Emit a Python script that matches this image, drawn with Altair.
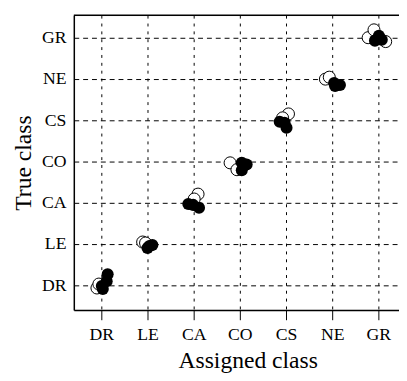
import altair as alt
import pandas as pd

classes = ["DR", "LE", "CA", "CO", "CS", "NE", "GR"]

# open circles (assigned, true) positions
open_x = [0.905, 0.947, 1.895, 1.958, 3.095, 3.011, 3.789, 3.937, 5.053, 4.926, 5.853, 5.937, 6.779, 6.905, 7.158]
open_y = [0.936, 1.031, 2.050, 2.026, 3.211, 3.092, 3.969, 3.803, 5.154, 5.059, 5.998, 6.045, 7.002, 7.192, 6.908]

# filled circles
fill_x = [1.011, 1.116, 1.137, 1.032, 2.042, 2.105, 2.000, 2.884, 3.116, 2.989, 4.042, 4.147, 4.042, 4.863, 5.011, 4.968, 6.042, 6.168, 6.063, 7.011, 7.074, 6.926]
fill_y = [0.983, 1.102, 1.268, 0.912, 1.955, 1.979, 1.908, 2.974, 2.879, 2.950, 3.969, 3.931, 3.789, 4.964, 4.822, 4.941, 5.903, 5.855, 5.832, 7.050, 6.955, 6.931]

W, H = 331, 300
FONT = "Liberation Serif"

df_open = pd.DataFrame({"x": open_x, "y": open_y})
df_fill = pd.DataFrame({"x": fill_x, "y": fill_y})

label_expr = "[" + ",".join("'%s'" % c for c in classes) + "][datum.value-1]"
ticks = list(range(1, len(classes) + 1))

xd0 = 1 - 28 / 47
xd1 = xd0 + W / 47
yd1 = 7 + 23 / 42
yd0 = yd1 - H / 42

xenc = alt.X("x:Q",
             scale=alt.Scale(domain=[xd0, xd1], nice=False, zero=False),
             axis=alt.Axis(values=ticks, labelExpr=label_expr, title="Assigned class",
                           grid=True, gridColor="black", gridDash=[3, 5], gridWidth=1, gridOpacity=1,
                           domainColor="black", domainWidth=1.5, tickColor="black", tickSize=10, tickWidth=1,
                           labelFont=FONT, labelFontSize=18, labelColor="black", labelPadding=6,
                           titleFont=FONT, titleFontSize=24, titleFontWeight="normal", titleColor="black",
                           titlePadding=6, titleX=177))
yenc = alt.Y("y:Q",
             scale=alt.Scale(domain=[yd0, yd1], nice=False, zero=False),
             axis=alt.Axis(values=ticks, labelExpr=label_expr, title="True class",
                           grid=True, gridColor="black", gridDash=[5, 4], gridWidth=1, gridOpacity=1,
                           domainColor="black", domainWidth=1.5, tickSize=0,
                           labelFont=FONT, labelFontSize=18, labelColor="black", labelPadding=8,
                           titleFont=FONT, titleFontSize=24, titleFontWeight="normal", titleColor="black",
                           titlePadding=6))

opens = alt.Chart(df_open).mark_point(shape="circle", filled=False, fill="white", fillOpacity=1,
                                      stroke="black", strokeWidth=1, size=150, opacity=1).encode(x=xenc, y=yenc)
fills = alt.Chart(df_fill).mark_point(shape="circle", filled=True, color="black", size=150,
                                      opacity=1).encode(x="x:Q", y="y:Q")
top = alt.Chart(pd.DataFrame({"a": [0]})).mark_rule(color="black", strokeWidth=1.5).encode(
    x=alt.value(0), x2=alt.value(W), y=alt.value(0))

chart = alt.layer(opens, fills, top).properties(
    width=W, height=H,
    autosize=alt.AutoSizeParams(type="none"),
    padding={"left": 67, "top": 4, "right": 0, "bottom": 66},
).configure_view(stroke=None).configure(background="white")

chart.save("out.html", embed_options={"renderer": "svg", "actions": False})
